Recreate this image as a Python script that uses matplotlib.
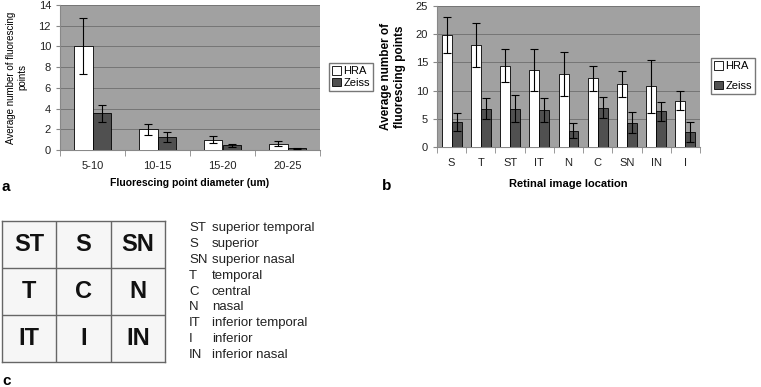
import matplotlib.pyplot as plt
import numpy as np

plt.rcParams['font.family'] = ['Liberation Sans', 'DejaVu Sans']

# panel a data
diam_labels = ['5-10', '10-15', '15-20', '20-25']
hra_a = [10.0, 2.0, 1.0, 0.6]
hra_a_err = [2.7, 0.55, 0.35, 0.25]
zeiss_a = [3.55, 1.25, 0.45, 0.15]
zeiss_a_err = [0.8, 0.5, 0.17, 0.06]

# panel b data
loc_labels = ['S', 'T', 'ST', 'IT', 'N', 'C', 'SN', 'IN', 'I']
hra_b = [19.8, 18.0, 14.4, 13.6, 13.0, 12.2, 11.1, 10.8, 8.2]
hra_b_err = [3.2, 3.9, 2.9, 3.7, 3.9, 2.2, 2.3, 4.7, 1.7]
zeiss_b = [4.4, 6.8, 6.8, 6.6, 2.9, 7.0, 4.3, 6.3, 2.7]
zeiss_b_err = [1.6, 1.9, 2.4, 2.1, 1.35, 1.8, 1.85, 1.7, 1.75]

# panel c data
grid_rows = [['ST', 'S', 'SN'], ['T', 'C', 'N'], ['IT', 'I', 'IN']]
abbrevs = ['ST', 'S', 'SN', 'T', 'C', 'N', 'IT', 'I', 'IN']
descs = ['superior temporal', 'superior', 'superior nasal', 'temporal', 'central',
         'nasal', 'inferior temporal', 'inferior', 'inferior nasal']

W, H = 761, 387
fig = plt.figure(figsize=(W / 100, H / 100), dpi=100)
BG = '#a1a1a1'
DARK = '#505050'


def px_axes(x0, y0, x1, y1):
    return fig.add_axes([x0 / W, 1 - y1 / H, (x1 - x0) / W, (y1 - y0) / H])


def bar_panel(ax, labels, hra, hra_err, zeiss, zeiss_err, width, ymax, step):
    x = np.arange(len(labels))
    ekw = dict(ecolor='black', elinewidth=0.8, capsize=3, capthick=0.8)
    b1 = ax.bar(x - width / 2, hra, width, color='white', edgecolor='black', linewidth=0.6,
                yerr=hra_err, error_kw=ekw, zorder=3, label='HRA')
    b2 = ax.bar(x + width / 2, zeiss, width, color=DARK, edgecolor='black', linewidth=0.6,
                yerr=zeiss_err, error_kw=ekw, zorder=3, label='Zeiss')
    ax.set_facecolor(BG)
    ax.set_xlim(-0.5, len(labels) - 0.5)
    ax.set_ylim(0, ymax)
    ax.set_yticks(np.arange(0, ymax + 0.1, step))
    ax.yaxis.grid(True, color='#6e6e6e', linewidth=0.6, zorder=0)
    ax.set_xticks(x)
    ax.set_xticklabels(labels)
    ax.set_xticks(np.arange(-0.5, len(labels)), minor=True)
    ax.tick_params(axis='x', which='major', length=0, pad=8, labelsize=8, colors='#222222')
    ax.tick_params(axis='x', which='minor', length=4, color='#888888')
    ax.tick_params(axis='y', length=3, labelsize=8, colors='#222222', color='#888888')
    for s in ['top', 'right']:
        ax.spines[s].set_visible(False)
    for s in ['left', 'bottom']:
        ax.spines[s].set_color('#888888')
        ax.spines[s].set_linewidth(0.8)
    return b1, b2


leg_kw = dict(loc='center', fontsize=8, frameon=True, fancybox=False, edgecolor='#777777',
              framealpha=1, handlelength=0.8, handleheight=0.8, handletextpad=0.2,
              borderpad=0.3, borderaxespad=0)

# panel a
ax1 = px_axes(60, 5, 320, 150)
h1 = bar_panel(ax1, diam_labels, hra_a, hra_a_err, zeiss_a, zeiss_a_err, 0.29, 14, 2)
ax1.set_ylabel('Average number of fluorescing\npoints', fontsize=7, labelpad=8)
ax1.set_xlabel('Fluorescing point diameter (um)', fontsize=7.5, fontweight='bold', labelpad=5)
fig.legend(h1, ['HRA', 'Zeiss'], bbox_to_anchor=(351 / W, 1 - 77 / H), labelspacing=0.15, **leg_kw)

# panel b
ax2 = px_axes(437, 6, 700, 147)
h2 = bar_panel(ax2, loc_labels, hra_b, hra_b_err, zeiss_b, zeiss_b_err, 0.34, 25, 5)
ax2.set_ylabel('Average number of\nfluorescing points', fontsize=8.5, fontweight='bold', labelpad=7)
ax2.set_xlabel('Retinal image location', fontsize=8, fontweight='bold', labelpad=8)
fig.legend(h2, ['HRA', 'Zeiss'], bbox_to_anchor=(733 / W, 1 - 76 / H), labelspacing=0.85, **leg_kw)

# panel c grid
ax3 = px_axes(2, 221, 165, 362)
ax3.set_xlim(0, 3)
ax3.set_ylim(3, 0)
ax3.set_facecolor('#f6f6f6')
for r, row in enumerate(grid_rows):
    for c, lab in enumerate(row):
        ax3.text(c + 0.5, r + 0.5, lab, ha='center', va='center', fontsize=17,
                 fontweight='bold', color='#111111')
for k in range(1, 3):
    ax3.axvline(k, color='#666666', lw=1)
    ax3.axhline(k, color='#666666', lw=1)
ax3.set_xticks([])
ax3.set_yticks([])
for s in ax3.spines.values():
    s.set_color('#666666')
    s.set_linewidth(1)

# panel c key
for i, (a, d) in enumerate(zip(abbrevs, descs)):
    y = 1 - (228 + i * 15.9) / H
    fig.text(189 / W, y, a, fontsize=9.5, va='center', color='#222222')
    fig.text(212 / W, y, d, fontsize=9.5, va='center', color='#222222')

# panel letters
fig.text(2 / W, 1 - 187 / H, 'a', fontsize=11, fontweight='bold', va='center')
fig.text(382 / W, 1 - 186 / H, 'b', fontsize=11, fontweight='bold', va='center')
fig.text(2 / W, 1 - 381 / H, 'c', fontsize=11, fontweight='bold', va='center')

fig.savefig('out.png', dpi=100)
